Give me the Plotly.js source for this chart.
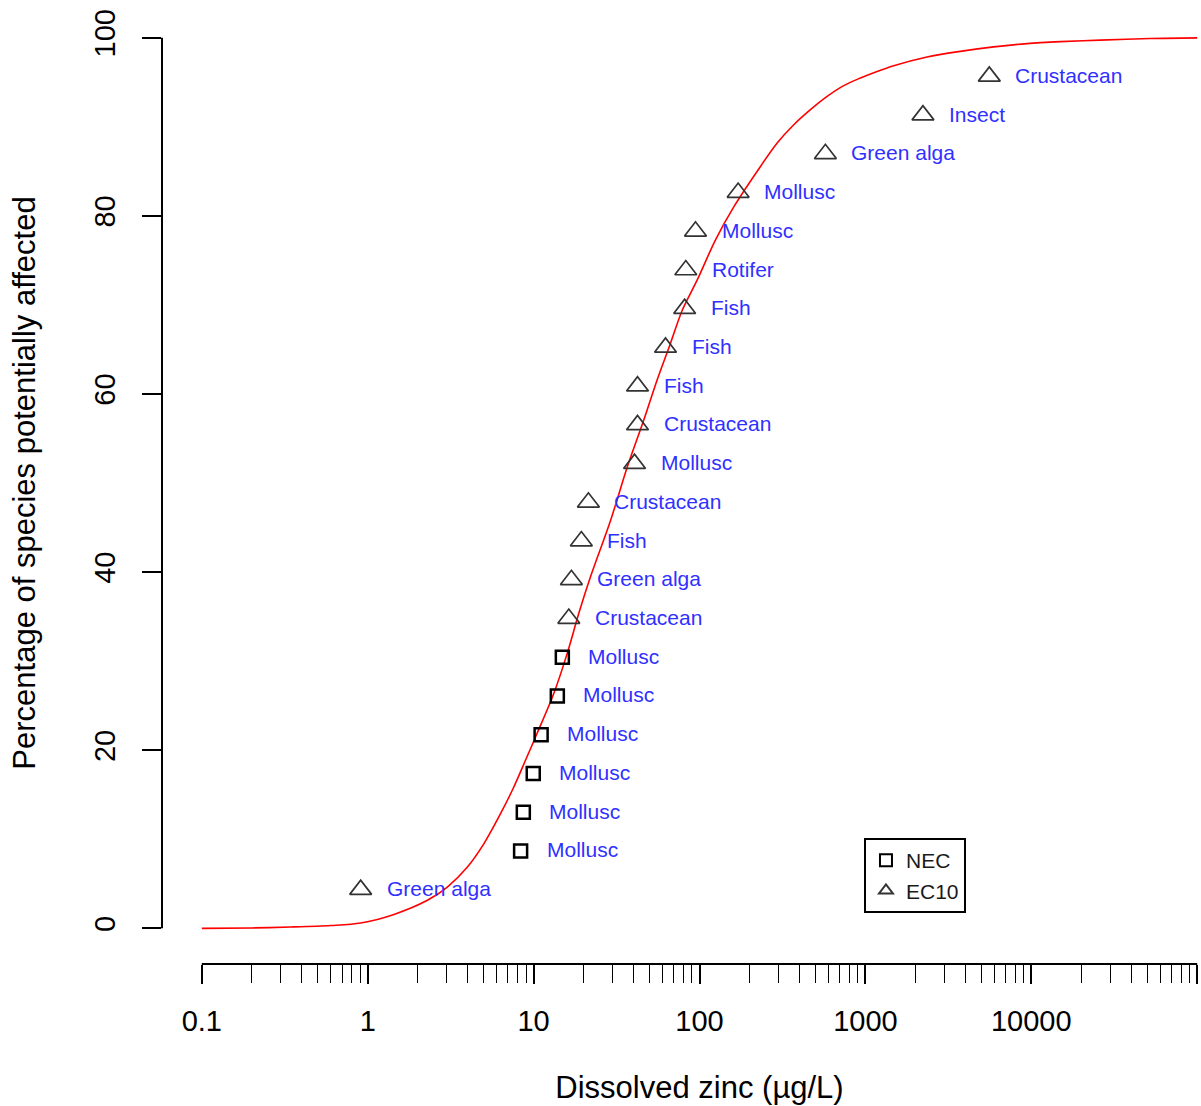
<!DOCTYPE html>
<html><head><meta charset="utf-8">
<script src="https://cdn.plot.ly/plotly-3.0.1.min.js"></script>
<style>html,body{margin:0;padding:0;overflow:hidden;background:#fff}</style>
</head><body>
<div id="chart" style="width:1240px;height:1106px"></div>
<script>
// Species sensitivity data (bottom to top)
const speciesLabels = ['Green alga','Mollusc','Mollusc','Mollusc','Mollusc','Mollusc','Mollusc',
  'Crustacean','Green alga','Fish','Crustacean','Mollusc','Crustacean','Fish','Fish','Fish',
  'Rotifer','Mollusc','Mollusc','Green alga','Insect','Crustacean'];
const endpointType = ['EC10','NEC','NEC','NEC','NEC','NEC','NEC',
  'EC10','EC10','EC10','EC10','EC10','EC10','EC10','EC10','EC10',
  'EC10','EC10','EC10','EC10','EC10','EC10'];
const zincConc = [0.907, 8.35, 8.67, 9.95, 11.1, 13.9, 14.9,
  16.3, 16.9, 19.4, 21.4, 40.6, 42.3, 42.3, 62.4, 81.4,
  82.7, 94.6, 171, 574, 2223, 5585];
const percentAffected = [4.35, 8.70, 13.04, 17.39, 21.74, 26.09, 30.43,
  34.78, 39.13, 43.48, 47.83, 52.17, 56.52, 60.87, 65.22, 69.57,
  73.91, 78.26, 82.61, 86.96, 91.30, 95.65];

// Fitted SSD curve
const curveConc = [0.1, 0.2, 0.343, 0.6, 0.907, 1.44, 2.29, 3.02, 3.99, 5.02, 6.33, 7.61, 8.95,
  10.5, 13.25, 15.96, 18.75, 22.05, 29.1, 36.7, 46.2, 55.6, 66.9, 78.7, 96.9,
  124.9, 160.9, 233.1, 293.9, 370.0, 466.4, 588.0, 740.2, 933.0, 1176, 1481,
  2353, 3735, 5929, 9422, 14950, 26040, 52100, 100000];
const curvePercent = [0.0, 0.05, 0.15, 0.32, 0.6, 1.57, 3.15, 4.64, 6.89, 9.52, 12.9, 15.9, 18.9,
  21.9, 26.4, 30.9, 35.4, 39.5, 45.8, 51.8, 57.1, 61.6, 65.7, 69.4, 72.8,
  77.3, 81.0, 85.54, 88.17, 90.22, 91.91, 93.40, 94.61, 95.47, 96.21, 96.85,
  97.83, 98.46, 98.96, 99.33, 99.55, 99.72, 99.9, 99.97];

const xTickVals = [0.1, 1, 10, 100, 1000, 10000, 100000];
const xTickText = ['0.1', '1', '10', '100', '1000', '10000', ''];
const yTickVals = [0, 20, 40, 60, 80, 100];
const yTickText = ['0', '20', '40', '60', '80', '100'];

const minorTicks = [];
for (let d = 0; d < xTickVals.length - 1; d++) {
  for (let m = 2; m <= 9; m++) minorTicks.push(xTickVals[d] * m);
}

const FONT = 'Liberation Sans, Arial, sans-serif';
const sel = t => zincConc.map((v, i) => endpointType[i] === t ? i : -1).filter(i => i >= 0);
const necIdx = sel('NEC'), ecIdx = sel('EC10');

const traces = [
  {
    x: curveConc, y: curvePercent, type: 'scatter', mode: 'lines',
    line: {color: '#ff0000', width: 1.6, shape: 'spline', smoothing: 0.9, simplify: false},
    showlegend: false, hoverinfo: 'skip'
  },
  {
    x: necIdx.map(i => zincConc[i]), y: necIdx.map(i => percentAffected[i]),
    type: 'scatter', mode: 'markers', name: 'NEC',
    marker: {symbol: 'square-open', size: 13, color: '#000', line: {width: 2.5, color: '#000'}}
  },
  {
    x: ecIdx.map(i => zincConc[i]), y: ecIdx.map(i => percentAffected[i]),
    type: 'scatter', mode: 'markers', name: 'EC10',
    marker: {symbol: 'triangle-up-open', size: 19, color: '#333', line: {width: 1.7, color: '#333'}}
  }
];

const annotations = speciesLabels.map((t, i) => ({
  x: Math.log10(zincConc[i]), y: percentAffected[i], xref: 'x', yref: 'y',
  text: t, showarrow: false, xanchor: 'left', yanchor: 'middle', xshift: 24, yshift: 1,
  font: {family: FONT, size: 21, color: '#3030ff'}
}));

const layout = {
  width: 1240, height: 1106,
  margin: {l: 162, r: 3, t: 2, b: 142},
  paper_bgcolor: '#fff', plot_bgcolor: '#fff',
  font: {family: FONT, color: '#000'},
  xaxis: {
    type: 'log', range: [-1.24, 5.24],
    tickmode: 'array', tickvals: xTickVals, ticktext: xTickText,
    ticks: 'outside', ticklen: 19, tickwidth: 2, tickcolor: '#000',
    showgrid: false, zeroline: false, showline: false,
    tickfont: {family: FONT, size: 29, color: '#000'},
    ticklabelstandoff: 12,
    minor: {tickmode: 'array', tickvals: minorTicks, ticks: 'outside', ticklen: 18, tickwidth: 1, tickcolor: '#000', showgrid: false},
    title: {text: 'Dissolved zinc (µg/L)', font: {family: FONT, size: 31, color: '#000'}, standoff: 40}
  },
  yaxis: {
    range: [-4, 104],
    tickmode: 'array', tickvals: yTickVals, ticktext: yTickText,
    ticks: 'outside', ticklen: 19, tickwidth: 2, tickcolor: '#000',
    tickangle: -90,
    showgrid: false, zeroline: false, showline: false,
    tickfont: {family: FONT, size: 29, color: '#000'},
    ticklabelstandoff: 15,
    title: {text: 'Percentage of species potentially affected', font: {family: FONT, size: 31, color: '#000'}, standoff: 44}
  },
  shapes: [
    {type: 'line', xref: 'paper', yref: 'y', x0: 0, x1: 0, y0: 0, y1: 100, line: {color: '#000', width: 2}},
    {type: 'line', xref: 'x', yref: 'paper', x0: 0.1, x1: 100000, y0: 0, y1: 0, line: {color: '#000', width: 2}}
  ],
  annotations: annotations,
  showlegend: true,
  legend: {
    x: 0.653, y: 0.131, xanchor: 'left', yanchor: 'top',
    bordercolor: '#000', borderwidth: 2, bgcolor: '#fff',
    font: {family: FONT, size: 21, color: '#1a1a1a'},
    itemsizing: 'constant', traceorder: 'normal'
  }
};

Plotly.newPlot('chart', traces, layout, {displayModeBar: false, staticPlot: true});
</script>
</body></html>
